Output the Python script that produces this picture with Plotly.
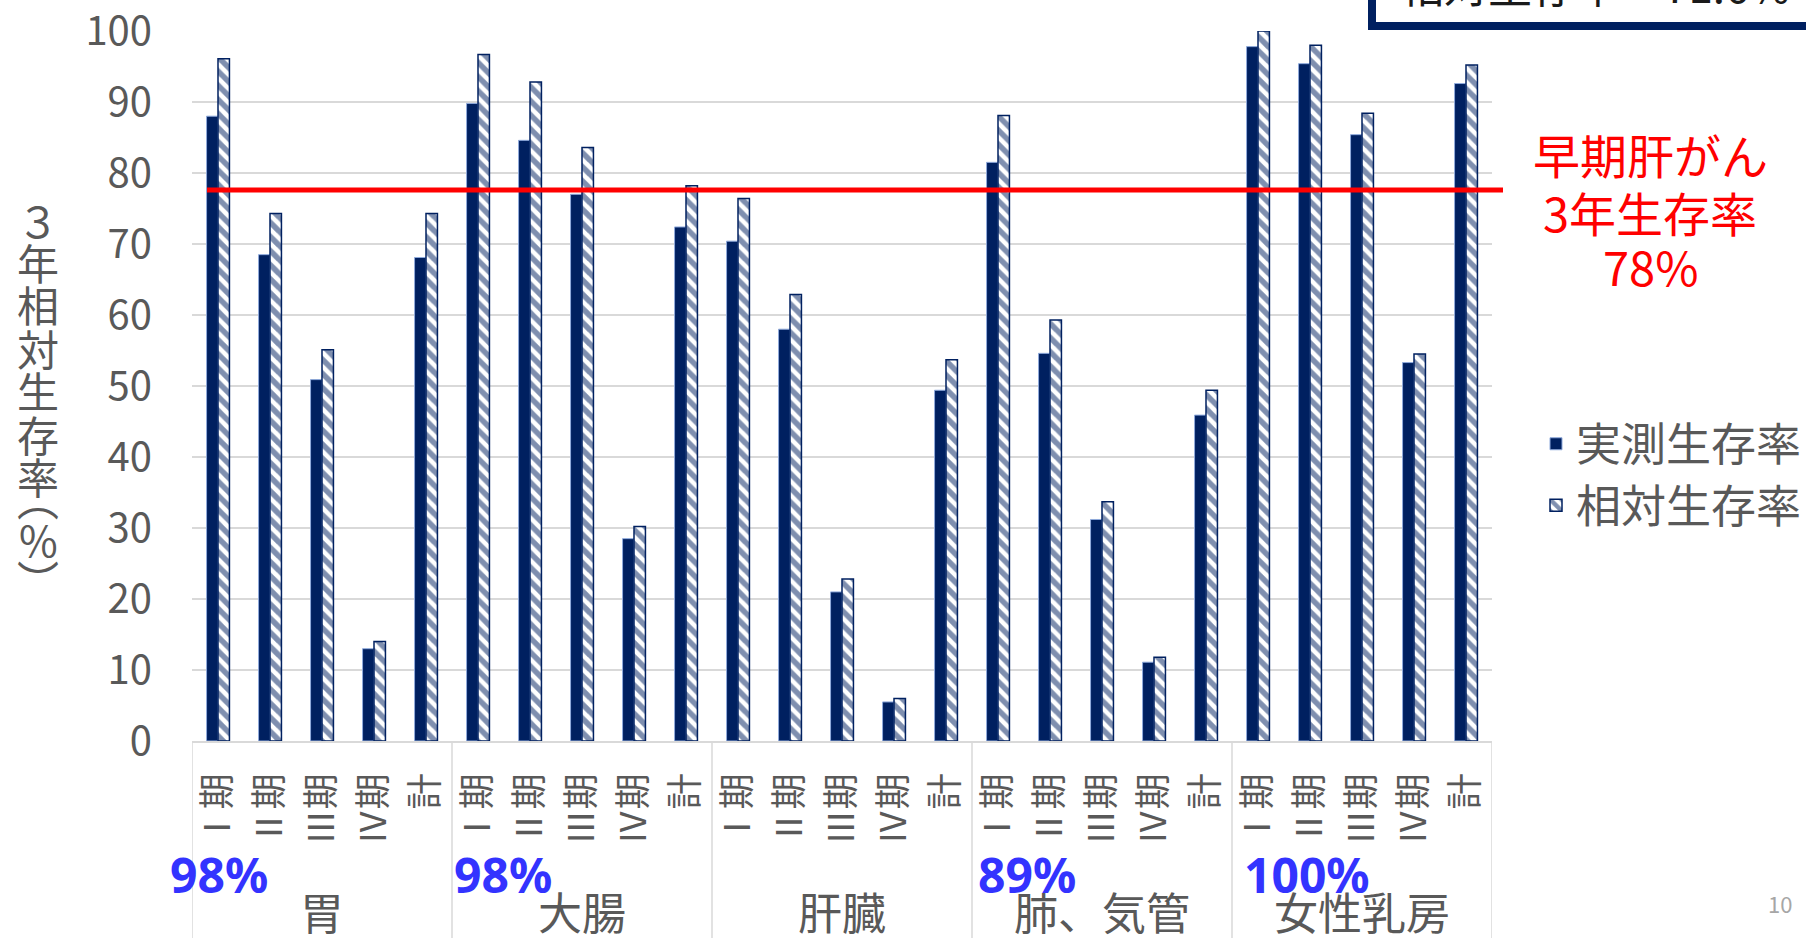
import plotly.graph_objects as go

# ---------------- data ----------------
groups = ["胃", "大腸", "肝臓", "肺、気管", "女性乳房"]
stages = ["Ⅰ期", "Ⅱ期", "Ⅲ期", "Ⅳ期", "計"]

observed_rate = [
    88.0, 68.5, 50.9, 13.0, 68.1,   # 胃
    89.8, 84.6, 77.0, 28.5, 72.4,   # 大腸
    70.4, 58.0, 21.0, 5.5, 49.4,    # 肝臓
    81.5, 54.6, 31.2, 11.1, 45.9,   # 肺、気管
    97.8, 95.4, 85.4, 53.3, 92.6,   # 女性乳房
]
relative_rate = [
    96.1, 74.3, 55.1, 14.0, 74.3,
    96.7, 92.8, 83.6, 30.2, 78.2,
    76.4, 62.9, 22.8, 6.0, 53.7,
    88.1, 59.3, 33.7, 11.8, 49.4,
    100.0, 98.0, 88.4, 54.5, 95.2,
]
stage1_relative_labels = ["98%", "98%", "", "89%", "100%"]
early_liver_rate = 77.6
series_names = ["実測生存率", "相対生存率"]
y_ticks = [0, 10, 20, 30, 40, 50, 60, 70, 80, 90, 100]

# ---------------- styling ----------------
NAVY = "#002060"
GRAY = "#595959"
GRID = "#D9D9D9"
FONT = "Noto Sans CJK JP"

n_stage = len(stages)
categories = [(g, s) for g in groups for s in stages]
xpos = list(range(len(categories)))
ticktext = [s for g, s in categories]

fig = go.Figure()
fig.add_trace(go.Bar(
    x=xpos, y=observed_rate, name=series_names[0],
    marker=dict(color=NAVY, line=dict(color="#8FAADC", width=1)),
))
fig.add_trace(go.Bar(
    x=xpos, y=relative_rate, name=series_names[1],
    marker=dict(color="white", line=dict(color=NAVY, width=1.5),
                pattern=dict(shape="\\", fgcolor=NAVY, bgcolor="white",
                             size=10, solidity=0.55)),
))

W, H = 1806, 938
L, R, T, B = 192, 314, 31, 197
plot_w = W - L - R
plot_h = H - T - B


def px_to_paper_x(px):
    return (px - L) / plot_w


def px_to_paper_y(py):
    return (H - B - py) / plot_h


shapes = []
annotations = []

# group divider lines in the category area
for gi in range(len(groups) + 1):
    xb = gi * n_stage - 0.5
    shapes.append(dict(type="line", xref="x", yref="paper", x0=xb, x1=xb,
                       y0=0, y1=-0.4, line=dict(color=GRID, width=1.5),
                       layer="below"))

# group labels and blue stage-I percentages
pct_shift = [-24, 0, 0, 4, 10]
for gi, g in enumerate(groups):
    center = gi * n_stage + (n_stage - 1) / 2
    annotations.append(dict(x=center, y=px_to_paper_y(911), xref="x", yref="paper",
                            text=g, showarrow=False, xanchor="center", yanchor="middle",
                            font=dict(family=FONT, size=44, color=GRAY)))
    if stage1_relative_labels[gi]:
        annotations.append(dict(x=gi * n_stage - 0.5, y=px_to_paper_y(874), xref="x",
                                yref="paper", text="<b>" + stage1_relative_labels[gi] + "</b>",
                                showarrow=False, xanchor="left", yanchor="middle",
                                xshift=pct_shift[gi],
                                font=dict(family="Noto Sans", size=48, color="#3333FF")))

# early liver cancer reference line
shapes.append(dict(type="line", xref="paper", yref="y",
                   x0=px_to_paper_x(207), x1=px_to_paper_x(1503),
                   y0=early_liver_rate, y1=early_liver_rate,
                   line=dict(color="#FF0000", width=5)))
red_lines = ["早期肝がん", "3年生存率", f"{round(early_liver_rate)}%"]
red_y = [153, 211, 265]
for txt, ry in zip(red_lines, red_y):
    annotations.append(dict(x=px_to_paper_x(1650), y=px_to_paper_y(ry), xref="paper", yref="paper",
                            text=txt, showarrow=False, xanchor="center", yanchor="middle",
                            font=dict(family=FONT, size=47, color="#FF0000")))

# vertical y-axis title (one character per line)
title_chars = ["３", "年", "相", "対", "生", "存", "率", "︵", "%", "︶"]
title_y = [219, 261, 303, 347, 389, 433, 475, 497, 538, 578]
for ch, ty in zip(title_chars, title_y):
    annotations.append(dict(x=px_to_paper_x(38), y=px_to_paper_y(ty), xref="paper", yref="paper",
                            text=ch, showarrow=False, xanchor="center", yanchor="middle",
                            font=dict(family=FONT, size=42, color=GRAY)))

# cropped box at the top right
shapes.append(dict(type="rect", xref="paper", yref="paper",
                   x0=px_to_paper_x(1372), x1=px_to_paper_x(1900),
                   y0=px_to_paper_y(26), y1=px_to_paper_y(-80),
                   fillcolor="white", line=dict(color=NAVY, width=8)))
annotations.append(dict(x=px_to_paper_x(1398), y=px_to_paper_y(18), xref="paper", yref="paper",
                        text="相対生存率　71.6%", showarrow=False, xanchor="left", yanchor="bottom",
                        font=dict(family=FONT, size=44, color="#1a1a1a")))

# slide number
annotations.append(dict(x=px_to_paper_x(1780), y=px_to_paper_y(903), xref="paper", yref="paper",
                        text="10", showarrow=False, xanchor="center", yanchor="middle",
                        font=dict(family=FONT, size=22, color="#A6A6A6")))

fig.update_layout(
    width=W, height=H,
    margin=dict(l=L, r=R, t=T, b=B, pad=0, autoexpand=False),
    paper_bgcolor="white", plot_bgcolor="white",
    barmode="group", bargap=0.56, bargroupgap=0.0,
    font=dict(family=FONT, color=GRAY),
    showlegend=True,
    legend=dict(x=px_to_paper_x(1536), y=px_to_paper_y(408), xanchor="left", yanchor="top",
                font=dict(family=FONT, size=45, color=GRAY),
                bgcolor="rgba(0,0,0,0)", itemclick=False),
    shapes=shapes, annotations=annotations,
)
fig.update_xaxes(
    range=[-0.5, len(categories) - 0.5], automargin=False,
    tickmode="array", tickvals=xpos, ticktext=ticktext,
    tickangle=-90, ticklabelstandoff=16,
    tickfont=dict(family=FONT, size=36, color=GRAY),
    showline=True, linecolor=GRID, linewidth=1.5,
    showgrid=False, ticks="", zeroline=False,
)
fig.update_yaxes(
    range=[0, 100], automargin=False, tickmode="array", tickvals=y_ticks,
    showgrid=True, gridcolor=GRID, gridwidth=1.5,
    zeroline=False, showline=False, ticks="",
    ticklabelstandoff=39, ticklabeloverflow="allow",
    tickfont=dict(family=FONT, size=40, color=GRAY),
)

fig.write_html("out.html")
